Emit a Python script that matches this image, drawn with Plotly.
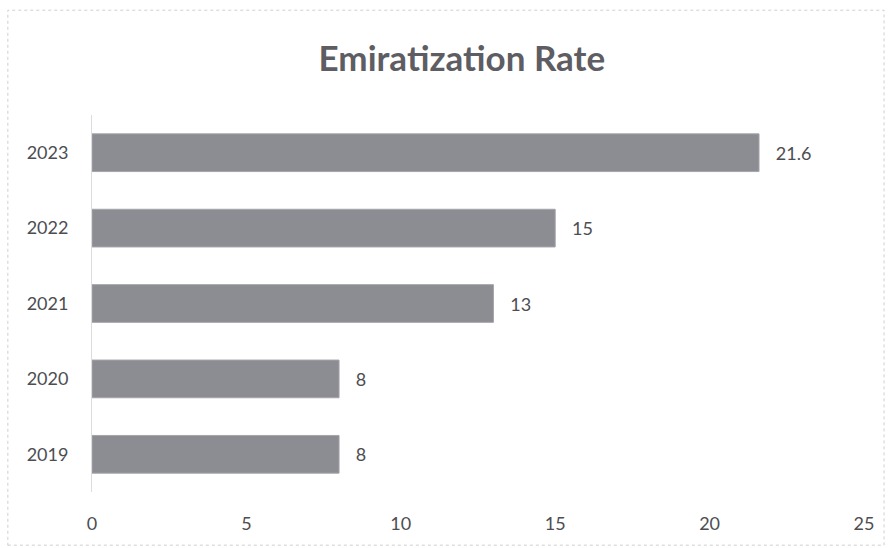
import plotly.graph_objects as go

years = ["2019", "2020", "2021", "2022", "2023"]
rates = [8, 8, 13, 15, 21.6]
x_ticks = [0, 5, 10, 15, 20, 25]
title_text = "Emiratization Rate"

FONT = "Lato, sans-serif"
TXT = "#4d4d52"

fig = go.Figure()
fig.add_trace(go.Bar(
    y=years,
    x=rates,
    orientation="h",
    marker=dict(color="#8c8c93", line=dict(color="#a4a4aa", width=1)),
    width=0.5,
    text=[f"\u00a0\u00a0\u00a0{v:g}" for v in rates],
    textposition="outside",
    textfont=dict(family=FONT, size=18, color=TXT),
    cliponaxis=False,
    hoverinfo="skip",
))

fig.update_layout(
    width=890,
    height=548,
    margin=dict(l=92, r=26, t=115, b=56),
    paper_bgcolor="white",
    plot_bgcolor="white",
    showlegend=False,
    title=dict(
        text=f"<b>{title_text}</b>",
        x=0.519,
        xanchor="center",
        y=0.892,
        yanchor="middle",
        font=dict(family=FONT, size=35, color="#5d5d63"),
    ),
    xaxis=dict(
        range=[0, 25],
        tickvals=x_ticks,
        ticktext=[str(v) for v in x_ticks],
        showgrid=False,
        zeroline=False,
        showline=False,
        ticks="",
        ticklabelstandoff=19,
        tickfont=dict(family=FONT, size=18, color=TXT),
    ),
    yaxis=dict(
        categoryorder="array",
        categoryarray=years,
        showgrid=False,
        zeroline=False,
        showline=True,
        linecolor="#dcdcdc",
        linewidth=1,
        ticks="",
        ticklabelstandoff=19,
        tickfont=dict(family=FONT, size=18, color=TXT),
    ),
    shapes=[
        dict(type="rect", xref="paper", yref="paper",
             x0=-0.109, x1=1.026, y0=-0.141, y1=1.278,
             line=dict(color="#cfcfcf", width=1, dash="dot"),
             layer="below"),
    ],
)

fig.write_html("out.html")
